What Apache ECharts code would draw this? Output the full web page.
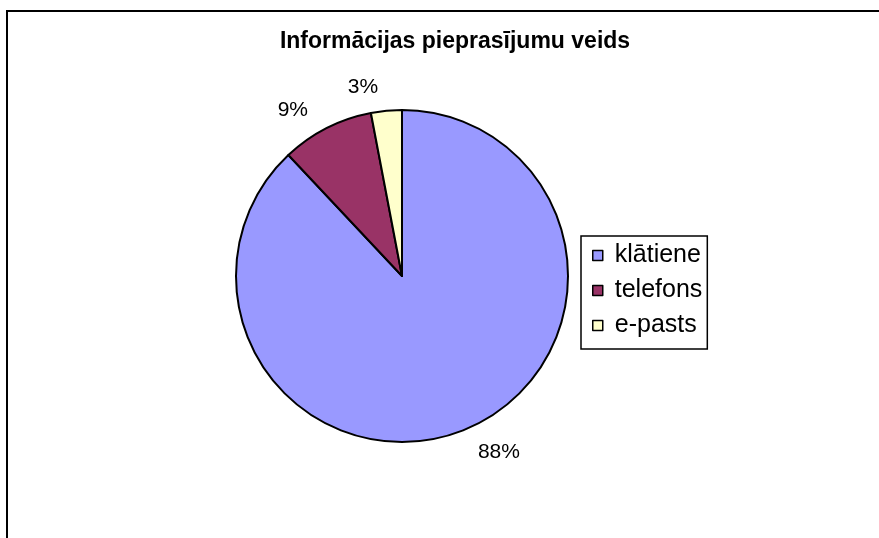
<!DOCTYPE html>
<html>
<head>
<meta charset="utf-8">
<script src="https://cdn.jsdelivr.net/npm/echarts@6/dist/echarts.min.js"></script>
<style>
  html, body { margin: 0; padding: 0; background: #fff; }
  #chart { width: 879px; height: 538px; }
</style>
</head>
<body>
<div id="chart"></div>
<script>
// pieprasījumu veidi un to daļas (%)
var categories = ['klātiene', 'telefons', 'e-pasts'];
var shares = [88, 9, 3];
var colors = ['#9999FF', '#993366', '#FFFFCC'];
var titleText = 'Informācijas pieprasījumu veids';

var pieData = [];
for (var i = 0; i < categories.length; i++) {
    pieData.push({ name: categories[i], value: shares[i] });
}

var myChart = echarts.init(document.getElementById('chart'));
myChart.setOption({
    color: colors,
    animation: false,
    textStyle: { fontFamily: 'Liberation Sans, Arial, sans-serif' },
    // rāmis ap diagrammu
    graphic: [{
        type: 'rect',
        shape: { x: 7, y: 11, width: 900, height: 600 },
        style: { fill: 'none', stroke: '#000', lineWidth: 2 },
        silent: true
    }],
    title: {
        text: titleText,
        left: 450,
        top: 25,
        textAlign: 'center',
        textStyle: { fontSize: 23, fontWeight: 'bold', color: '#000' }
    },
    legend: {
        orient: 'vertical',
        left: 581,
        top: 236,
        data: categories,
        icon: 'rect',
        itemWidth: 10,
        itemHeight: 10,
        itemGap: 10,
        padding: [7, 5, 11, 11],
        borderColor: '#000',
        borderWidth: 1.5,
        itemStyle: { borderColor: '#000', borderWidth: 1.5 },
        textStyle: { fontSize: 25, color: '#000', padding: [0, 0, 0, 7] }
    },
    series: [{
        type: 'pie',
        center: [402, 276],
        radius: 166,
        startAngle: 90,
        clockwise: true,
        data: pieData,
        itemStyle: { borderColor: '#000', borderWidth: 2 },
        label: {
            show: true,
            position: 'outside',
            formatter: '{c}%',
            fontSize: 21,
            color: '#000'
        },
        labelLine: { show: false, length: 24, length2: 1 },
        emphasis: { disabled: true }
    }]
});
</script>
</body>
</html>
